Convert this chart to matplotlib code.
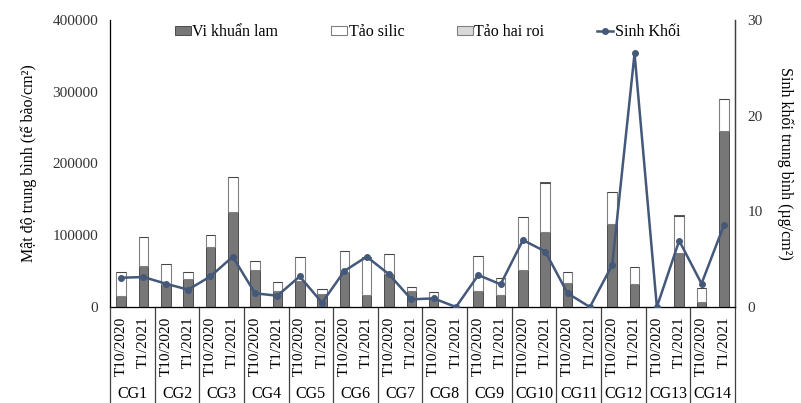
import matplotlib
matplotlib.use("Agg")
import matplotlib.pyplot as plt
import numpy as np
from matplotlib.patches import Patch
from matplotlib.lines import Line2D

plt.rcParams['font.family'] = ['Liberation Serif', 'DejaVu Serif']

# Điểm thu mẫu và đợt khảo sát
diem = ["CG1", "CG2", "CG3", "CG4", "CG5", "CG6", "CG7",
        "CG8", "CG9", "CG10", "CG11", "CG12", "CG13", "CG14"]
dot = ["T10/2020", "T1/2021"]

# Mật độ (tế bào/cm2) theo từng nhóm tảo
vi_khuan_lam = [16000, 57500, 31600, 38600, 84000, 132800, 51100, 22700,
                36700, 17700, 49200, 17200, 46000, 22300, 12100, 0,
                22300, 16700, 52000, 104000, 33400, 0, 115200, 32000,
                0, 74800, 7400, 245300]
tao_silic = [33000, 39500, 28800, 10400, 16000, 48800, 13000, 12100,
             33000, 6900, 29300, 52900, 27400, 5000, 8800, 0,
             49200, 23300, 73000, 69100, 15800, 0, 45500, 24200,
             0, 51900, 18600, 45000]
tao_hai_roi = [0, 0, 0, 0, 0, 0, 0, 0,
               0, 0, 0, 0, 0, 1000, 0, 0,
               0, 0, 0, 1500, 0, 0, 0, 0,
               0, 1500, 0, 0]

# Sinh khối trung bình (µg/cm2)
sinh_khoi = [3.06, 3.13, 2.44, 1.81, 3.2, 5.26, 1.43, 1.18,
             3.2, 0.45, 3.76, 5.26, 3.42, 0.8, 0.9, 0,
             3.34, 2.37, 7.0, 5.8, 1.43, 0, 4.39, 26.5,
             0, 6.93, 2.44, 8.53]

x = np.arange(len(vi_khuan_lam))
vkl = np.array(vi_khuan_lam)
ts = np.array(tao_silic)
thr = np.array(tao_hai_roi)

fig = plt.figure(figsize=(8.01, 4.03), dpi=100)
ax = fig.add_axes([0.1373, 0.2382, 0.7803, 0.7122])

w = 0.43
ax.bar(x, vkl, w, color='#777777', edgecolor='#3a3a3a', linewidth=0.6, zorder=2)
ax.bar(x, ts, w, bottom=vkl, color='white', edgecolor='#808080', linewidth=0.8, zorder=2)
ax.bar(x, thr, w, bottom=vkl + ts, color='#d9d9d9', edgecolor='#3a3a3a', linewidth=0.6, zorder=2)

ax.set_xlim(-0.5, len(x) - 0.5)
ax.set_ylim(0, 400000)
ax.set_yticks([0, 100000, 200000, 300000, 400000])
ax.tick_params(axis='y', length=0, pad=8.5, labelsize=11, colors='#333333')
ax.set_ylabel("Mật độ trung bình (tế bào/cm²)", fontsize=11.5, labelpad=11)

# Nhãn trục x hai cấp
ax.set_xticks(x)
ax.set_xticklabels(dot * len(diem), rotation=90, va='top', fontsize=11)
ax.tick_params(axis='x', length=0, pad=7)
tr = ax.get_xaxis_transform()
for i in range(len(diem) + 1):
    ax.plot([2 * i - 0.5, 2 * i - 0.5], [0, -0.34], transform=tr,
            color='#404040', lw=0.9, clip_on=False)
for i, ten in enumerate(diem):
    ax.text(2 * i + 0.5, -0.302, ten, transform=tr, ha='center', va='center',
            fontsize=11.5)

ax.spines['top'].set_visible(False)
for s in ['left', 'bottom', 'right']:
    ax.spines[s].set_color('#404040')
    ax.spines[s].set_linewidth(0.9)

# Trục phụ cho sinh khối
ax2 = ax.twinx()
ax2.plot(x, sinh_khoi, color='#44587a', lw=1.8, marker='o', markersize=4, zorder=3)
ax2.set_ylim(0, 30)
ax2.set_yticks([0, 10, 20, 30])
ax2.tick_params(axis='y', length=0, pad=9, labelsize=11, colors='#333333')
ax2.set_ylabel("Sinh khối trung bình (µg/cm²)", fontsize=11.5, rotation=270,
               labelpad=22)
ax2.spines['top'].set_visible(False)
ax2.spines['right'].set_color('#404040')
ax2.spines['right'].set_linewidth(0.9)

handles = [Patch(facecolor='#777777', edgecolor='#3a3a3a', lw=0.6),
           Patch(facecolor='white', edgecolor='#808080', lw=0.8),
           Patch(facecolor='#d9d9d9', edgecolor='#808080', lw=0.8),
           Line2D([], [], color='#44587a', lw=1.8, marker='o', markersize=4)]
labels = ["Vi khuẩn lam", "Tảo silic", "Tảo hai roi", "Sinh Khối"]
ax2.legend(handles, labels, loc='upper center', bbox_to_anchor=(0.508, 1.035),
           ncol=4, frameon=False, fontsize=11.5, handlelength=1.0,
           handleheight=0.5, handletextpad=0.1, columnspacing=3.3)

fig.savefig("out.png", dpi=100)
